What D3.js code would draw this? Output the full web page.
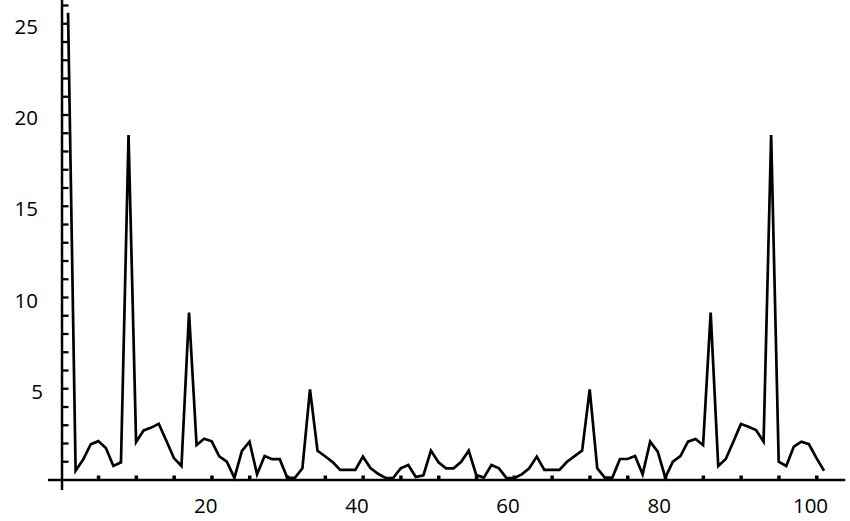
<!DOCTYPE html>
<html><head><meta charset="utf-8">
<script src="https://cdn.jsdelivr.net/npm/d3@7"></script>
<style>
html,body{margin:0;padding:0;background:#fff;}
svg{display:block;}
text{font-family:"Open Sans",sans-serif;font-size:20.5px;fill:#000;}
</style></head>
<body><svg id="c" width="850" height="521"></svg>
<script>
// magnitude values, index 1..101
const values = [
 25.6, 0.51, 1.12, 1.96, 2.13, 1.75, 0.77, 0.97, 18.9, 2.08,
 2.72, 2.87, 3.08, 2.15, 1.2, 0.77, 9.17, 1.92, 2.26, 2.12,
 1.3, 1.0, 0.12, 1.6, 2.1, 0.31, 1.31, 1.14, 1.14, 0.12,
 0.12, 0.64, 4.97, 1.6, 1.3, 0.98, 0.55, 0.55, 0.55, 1.28,
 0.66, 0.34, 0.11, 0.11, 0.64, 0.82, 0.16, 0.25, 1.61, 0.97,
 0.64, 0.64, 1.0, 1.61, 0.27, 0.13, 0.82, 0.64, 0.1, 0.1,
 0.31, 0.64, 1.28, 0.55, 0.55, 0.55, 1.0, 1.31, 1.61, 4.97,
 0.64, 0.13, 0.13, 1.15, 1.15, 1.31, 0.31, 2.1, 1.55, 0.13,
 1.0, 1.31, 2.1, 2.25, 1.92, 9.17, 0.77, 1.15, 2.1, 3.07,
 2.92, 2.74, 2.1, 18.9, 1.0, 0.77, 1.83, 2.1, 1.96, 1.2,
 0.51
];
const xTickLabels = [20, 40, 60, 80, 100];
const yTickLabels = [5, 10, 15, 20, 25];
const xMinorTicks = d3.range(5, 101, 5);
const yMinorTicks = d3.range(1, 27, 1);

const svg = d3.select("#c");
const x = d3.scaleLinear().domain([0, 100]).range([60.5, 816.5]);
const y = d3.scaleLinear().domain([0, 25]).range([480, 23.75]);
const originX = 0.2;

// axes lines
svg.append("line").attr("x1", x(-1.65)).attr("x2", x(103.8))
  .attr("y1", y(0)).attr("y2", y(0)).attr("stroke", "#000").attr("stroke-width", 2.5);
svg.append("line").attr("x1", x(originX)).attr("x2", x(originX))
  .attr("y1", y(26.3)).attr("y2", y(-0.55)).attr("stroke", "#000").attr("stroke-width", 2.5);

// y ticks
svg.selectAll(".yt").data(yMinorTicks).join("line")
  .attr("x1", x(originX)).attr("x2", x(originX) + 6.5)
  .attr("y1", d => y(d)).attr("y2", d => y(d))
  .attr("stroke", "#000").attr("stroke-width", 2.3);
// x ticks
svg.selectAll(".xt").data(xMinorTicks).join("rect")
  .attr("x", d => x(d) - 1.5).attr("y", y(0) - 4.5).attr("width", 3.5).attr("height", 3.5)
  .attr("fill", "#000");

// labels
svg.selectAll(".xl").data(xTickLabels).join("text")
  .attr("x", d => x(d) - 6).attr("y", 513).attr("text-anchor", "middle").text(d => d);
svg.selectAll(".yl").data(yTickLabels).join("text")
  .attr("x", d => d < 10 ? 43 : 38).attr("y", d => y(d) + 2)
  .attr("text-anchor", "end").attr("dominant-baseline", "central").text(d => d);

// data line
const line = d3.line().x((d, i) => x(i + 1)).y(d => y(d));
svg.append("path").datum(values).attr("d", line)
  .attr("fill", "none").attr("stroke", "#000").attr("stroke-width", 2.7);
</script></body></html>
